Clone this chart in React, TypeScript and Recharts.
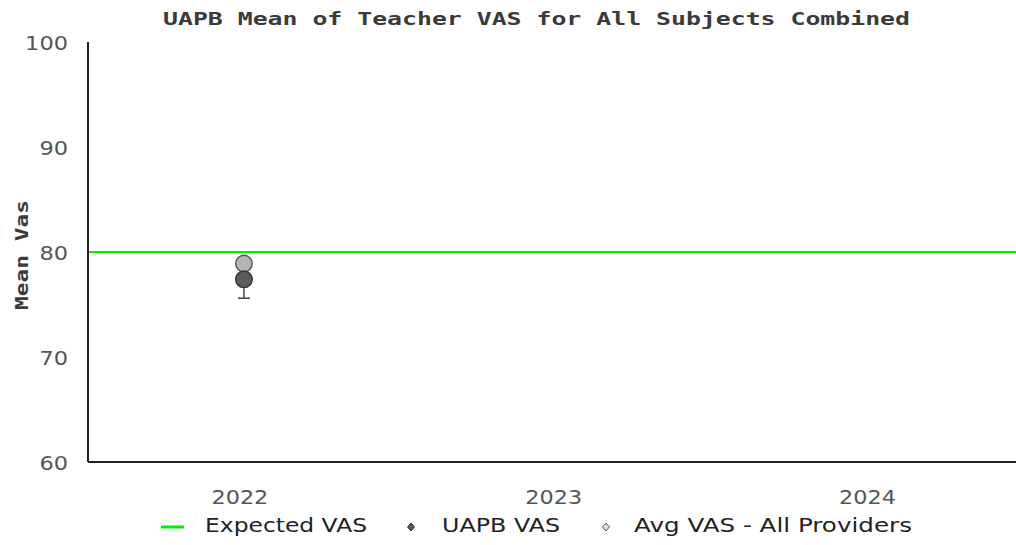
import React from 'react';
import {
  ComposedChart, Scatter, Line, XAxis, YAxis, ReferenceLine, Legend,
} from 'recharts';

const title = 'UAPB Mean of Teacher VAS for All Subjects Combined';
const yLabel = 'Mean Vas';
const years = [2022, 2023, 2024];
const uapbVas = [77.4];
const uapbErr = [1.8];
const avgVas = [78.9];
const expectedVas = [80];
const yTicks = [60, 70, 80, 90, 100];
const legendNames = ['Expected VAS', 'UAPB VAS', 'Avg VAS - All Providers'];

const uapbData = uapbVas.map((v, i) => ({ year: years[i], value: v }));
const avgData = avgVas.map((v, i) => ({ year: years[i], value: v }));
// whisker: from lower bound (mean - err) up to the mean
const whiskerData = [
  { year: years[0], value: uapbVas[0] - uapbErr[0], cap: true },
  { year: years[0], value: uapbVas[0], cap: false },
];

const GREEN = '#00ee00';
const DARK = '#5c5c5c';
const LIGHT = '#b4b4b4';
const TICK_FONT = 'DejaVu Sans';
const MONO = 'DejaVu Sans Mono';

const makeDot = (fill: string, stroke: string) => (props: any) => {
  const { cx, cy } = props;
  if (cx == null || cy == null) return <g />;
  return <circle cx={cx} cy={cy} r={8.3} fill={fill} stroke={stroke} strokeWidth={1.4} />;
};

const CapDot = (props: any) => {
  const { cx, cy, payload, index } = props;
  if (cx == null || cy == null || !payload?.cap) return <g key={index} />;
  return <line key={index} x1={cx - 6} x2={cx + 6} y1={cy} y2={cy} stroke="#444" strokeWidth={1.5} />;
};

const XTick = (props: any) => {
  const { x, y, payload } = props;
  const s = String(payload.value);
  return (
    <text x={x - 4} y={y + 14} textAnchor="middle" fill="#555" fontSize={20} fontFamily={TICK_FONT}
      textLength={s.length * 14.2} lengthAdjust="spacingAndGlyphs">{s}</text>
  );
};

const YTick = (props: any) => {
  const { y, payload } = props;
  const s = String(payload.value);
  return (
    <text x={68} y={y + 7.5} textAnchor="end" fill="#555" fontSize={20} fontFamily={TICK_FONT}
      textLength={s.length * 14.3} lengthAdjust="spacingAndGlyphs">{s}</text>
  );
};

const LegendContent = () => (
  <svg width={1016} height={30} style={{ display: 'block' }}>
    <line x1={161} x2={184} y1={17} y2={17} stroke={GREEN} strokeWidth={3} />
    <text x={205} y={22} fontSize={20} fontFamily={TICK_FONT} fill="#222" textLength={162} lengthAdjust="spacingAndGlyphs">{legendNames[0]}</text>
    <path d="M411 13 L414.5 17 L411 21 L407.5 17 Z" fill="#555" stroke="#333" strokeWidth={1} />
    <text x={442} y={22} fontSize={20} fontFamily={TICK_FONT} fill="#222" textLength={118} lengthAdjust="spacingAndGlyphs">{legendNames[1]}</text>
    <path d="M606 13 L609.5 17 L606 21 L602.5 17 Z" fill="#ddd" stroke="#555" strokeWidth={1} />
    <text x={634} y={22} fontSize={20} fontFamily={TICK_FONT} fill="#222" textLength={278} lengthAdjust="spacingAndGlyphs">{legendNames[2]}</text>
  </svg>
);

export default function App() {
  return (
    <div style={{ position: 'absolute', left: 0, top: 0, width: 1016, height: 545, background: '#fff' }}>
      <svg width={1016} height={40} style={{ position: 'absolute', left: 0, top: 0 }}>
        <text x={163} y={25} fontFamily={MONO} fontWeight="bold" fontSize={18} fill="#3a3a3a"
          textLength={747} lengthAdjust="spacingAndGlyphs">{title}</text>
      </svg>
      <ComposedChart width={1016} height={545} margin={{ top: 42, right: 0, left: 0, bottom: 0 }}>
        <XAxis
          type="number" dataKey="year" domain={[2021.503, 2024.4606]} allowDataOverflow
          ticks={years} tickLine={false} height={83}
          axisLine={{ stroke: '#222', strokeWidth: 2 }}
          tick={<XTick />} tickMargin={22}
        />
        <YAxis
          type="number" dataKey="value" domain={[60, 100]} ticks={yTicks} width={88}
          tickLine={false} axisLine={{ stroke: '#222', strokeWidth: 2 }}
          tick={<YTick />}
        />
        <text x={28} y={255} transform="rotate(-90 28 255)" textAnchor="middle" fontFamily={MONO}
          fontWeight="bold" fontSize={18} fill="#3a3a3a" textLength={110} lengthAdjust="spacingAndGlyphs">{yLabel}</text>
        <ReferenceLine y={expectedVas[0]} stroke={GREEN} strokeWidth={2} />
        <Line data={whiskerData} dataKey="value" stroke="#444" strokeWidth={1.5} dot={CapDot}
          activeDot={false} isAnimationActive={false} legendType="none" />
        <Scatter name={legendNames[2]} data={avgData} dataKey="value" isAnimationActive={false}
          shape={makeDot(LIGHT, '#555')} />
        <Scatter name={legendNames[1]} data={uapbData} dataKey="value" isAnimationActive={false}
          shape={makeDot(DARK, '#333')} />
        <Legend layout="horizontal" verticalAlign="middle" align="center" content={LegendContent}
          wrapperStyle={{ position: 'absolute', top: 510, left: 0, width: 1016 }} />
      </ComposedChart>
    </div>
  );
}
